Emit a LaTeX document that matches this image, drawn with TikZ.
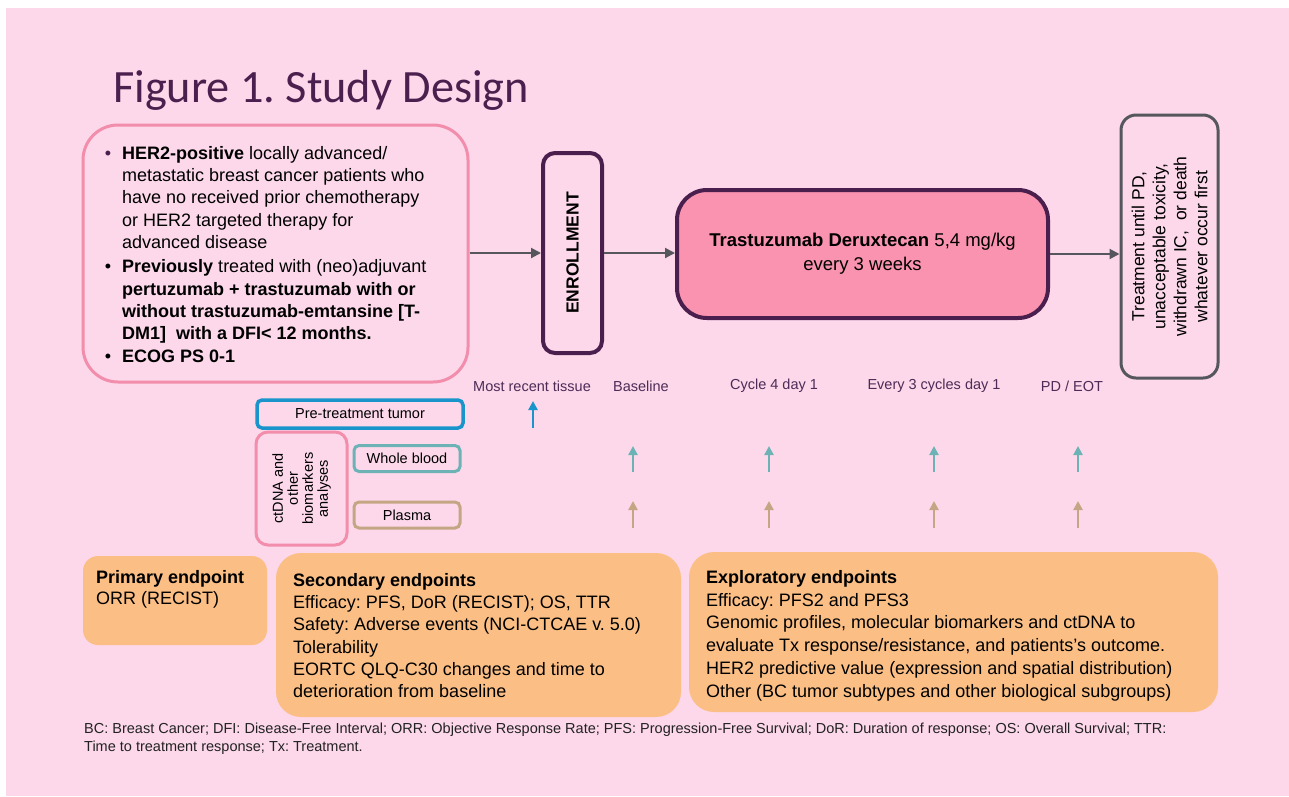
\documentclass[tikz,border=0pt]{standalone}
\usepackage{fontspec}
\setmainfont{Liberation Sans}
\newfontfamily\titlefont{Carlito}
\usetikzlibrary{arrows.meta}
\frenchspacing
\definecolor{bgpink}{HTML}{FCD8EA}
\definecolor{titlec}{HTML}{4B1F4E}
\definecolor{critpink}{HTML}{F28EAC}
\definecolor{purp}{HTML}{4A1E4D}
\definecolor{trastfill}{HTML}{F993AF}
\definecolor{grayc}{HTML}{56565E}
\definecolor{bluec}{HTML}{1A95CB}
\definecolor{tealc}{HTML}{6DB3B6}
\definecolor{tanc}{HTML}{C5A684}
\definecolor{orangef}{HTML}{FBBF86}
\definecolor{labelc}{HTML}{4E2B57}
\definecolor{footc}{HTML}{222222}
\tikzset{
  flowarrow/.style={draw=grayc, line width=2pt, -{Triangle[length=10pt,width=10pt]}},
  samplearrow/.style={line width=2.6pt, -{Triangle[length=9pt,width=9pt]}},
  samplebox/.style={draw, line width=3pt, rounded corners=5pt, minimum width=106, minimum height=26, inner sep=0, font=\fontsize{14.5}{16}\selectfont},
  endpointbox/.style={fill=orangef, inner sep=0},
  bodytext/.style={anchor=north west, inner sep=0, align=left, font=\fontsize{18}{22.3}\selectfont},
  tplabel/.style={text=labelc, inner sep=0, font=\fontsize{14.5}{16}\selectfont},
}
\begin{document}
\begin{tikzpicture}[x=1pt,y=-1pt]
\useasboundingbox (0,0) rectangle (1289,796);
\fill[white] (0,0) rectangle (1289,796);
\fill[bgpink] (6,8) rectangle (1289,796);

% title
\node[anchor=base west, inner sep=0, text=titlec, font=\titlefont\fontsize{46.3}{50}\selectfont] (title) at (113,102) {Figure 1. Study Design};

% inclusion criteria box
\node[draw=critpink, line width=3pt, rounded corners=35pt, minimum width=385, minimum height=257, inner sep=0] (crit) at (275.5,253.5) {};
\node[bodytext] (crittext) at (122,146) {%
\llap{\textcolor{purp}{\textbullet}\hspace{11pt}}\textbf{HER2-positive} locally advanced/\\
metastatic breast cancer patients who\\
have no received prior chemotherapy\\
or HER2 targeted therapy for\\
advanced disease\\[2pt]
\llap{\textbullet\hspace{11pt}}\textbf{Previously} treated with (neo)adjuvant\\
\textbf{pertuzumab + trastuzumab with or}\\
\textbf{without trastuzumab-emtansine [T-}\\
\textbf{DM1]\ \ with a DFI< 12 months.}\\[1pt]
\llap{\textbullet\hspace{11pt}}\textbf{ECOG PS 0-1}};

% enrollment
\node[draw=purp, line width=4pt, rounded corners=12pt, rotate=90, minimum width=200, minimum height=59, inner sep=0, font=\bfseries\fontsize{17.5}{20}\selectfont] (enroll) at (572.5,253) {ENROLLMENT};

% treatment
\node[draw=purp, fill=trastfill, line width=4pt, rounded corners=30pt, minimum width=371, minimum height=128, inner sep=0, align=center, font=\fontsize{18.5}{24}\selectfont] (trast) at (862.5,254) {\textbf{Trastuzumab Deruxtecan} 5,4 mg/kg\\every 3 weeks};

% end of treatment
\node[draw=grayc, line width=3pt, rounded corners=15pt, rotate=90, minimum width=263, minimum height=97, inner sep=0, align=center, font=\fontsize{17.5}{21}\selectfont] (eot) at (1169.5,246.5) {Treatment until PD,\\unacceptable toxicity,\\withdrawn IC,\ \ or death\\whatever occur first};

% flow arrows (rotated nodes: north = left side, south = right side)
\draw[flowarrow] (crit.east |- enroll.north) -- (enroll.north);
\draw[flowarrow] (enroll.south) -- (enroll.south -| trast.west);
\draw[flowarrow] (trast.east) -- (trast.east -| eot.north);

% timepoint labels
\node[tplabel] (tp1) at (532,386) {Most recent tissue};
\node[tplabel] (tp2) at (641,386) {Baseline};
\node[tplabel] (tp3) at (774,386) {Cycle 4 day 1};
\node[tplabel] (tp4) at (934,386) {Every 3 cycles day 1};
\node[tplabel] (tp5) at (1072,386) {PD / EOT};

% sample boxes
\node[samplebox, draw=bluec, line width=3.5pt, minimum width=206, minimum height=28] (tumor) at (360,414) {Pre-treatment tumor};
\node[draw=critpink, line width=3pt, rounded corners=12pt, rotate=90, minimum width=113, minimum height=91, inner sep=0, align=center, font=\fontsize{14.5}{15}\selectfont] (ctdna) at (301.5,488.5) {ctDNA and\\other\\biomarkers\\analyses};
\node[samplebox, draw=tealc] (blood) at (407,458.5) {Whole blood};
\node[samplebox, draw=tanc] (plasma) at (407,515) {Plasma};

% sample arrows
\coordinate (bs) at (533,428); \coordinate (be) at (533,401);
\draw[samplearrow, draw=bluec, fill=bluec] (bs) -- (be);
\foreach \i/\x in {1/633,2/769,3/934,4/1078}{
  \coordinate (ws\i) at (\x,472); \coordinate (we\i) at (\x,446);
  \coordinate (ps\i) at (\x,528); \coordinate (pe\i) at (\x,501);
  \draw[samplearrow, draw=tealc, fill=tealc] (ws\i) -- (we\i);
  \draw[samplearrow, draw=tanc, fill=tanc] (ps\i) -- (pe\i);
}

% endpoint boxes
\node[endpointbox, rounded corners=15pt, minimum width=184, minimum height=89] (prim) at (175,600.5) {};
\node[endpointbox, rounded corners=25pt, minimum width=405, minimum height=164] (sec) at (478.5,635) {};
\node[endpointbox, rounded corners=25pt, minimum width=529, minimum height=160] (expl) at (953.5,632) {};

\node[bodytext, font=\fontsize{18}{21.5}\selectfont] (primtext) at (96,570) {\textbf{Primary endpoint}\\ORR (RECIST)};
\node[bodytext] (sectext) at (293,573) {\textbf{Secondary endpoints}\\
Efficacy: PFS, DoR (RECIST); OS, TTR\\
Safety: Adverse events (NCI-CTCAE v. 5.0)\\
Tolerability\\
EORTC QLQ-C30 changes and time to\\
deterioration from baseline};
\node[bodytext, font=\fontsize{18}{22.8}\selectfont] (expltext) at (706,570) {\textbf{Exploratory endpoints}\\
Efficacy: PFS2 and PFS3\\
Genomic profiles, molecular biomarkers and ctDNA to\\
evaluate Tx response/resistance, and patients's outcome.\\
HER2 predictive value (expression and spatial distribution)\\
Other (BC tumor subtypes and other biological subgroups)};

% footer
\node[anchor=north west, inner sep=0, align=left, text=footc, font=\fontsize{14.5}{18}\selectfont] (footer) at (84,723) {BC: Breast Cancer; DFI: Disease-Free Interval; ORR: Objective Response Rate; PFS: Progression-Free Survival; DoR: Duration of response; OS: Overall Survival; TTR:\\
Time to treatment response; Tx: Treatment.};
\end{tikzpicture}
\end{document}
